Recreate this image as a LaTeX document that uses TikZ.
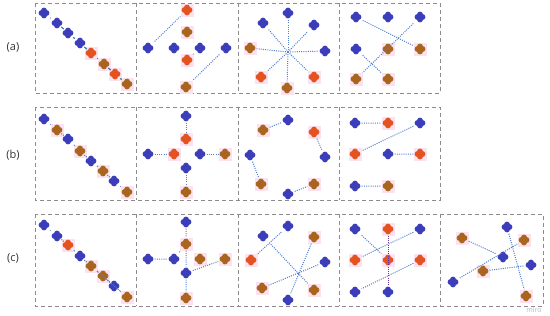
\documentclass[tikz,border=0pt]{standalone}
\usepackage{fontspec}
\setmainfont{Open Sans}
\definecolor{mblue}{HTML}{3B3DBA}
\definecolor{mora}{HTML}{E4531F}
\definecolor{mbro}{HTML}{A9651E}
\definecolor{halo}{HTML}{FCE1F1}
\definecolor{lnk}{HTML}{4F7FD0}
\definecolor{frame}{HTML}{8C8C8C}
\begin{document}
\begin{tikzpicture}[x=1pt,y=-1pt,
  mk/.style={minimum size=13, inner sep=0, path picture={
     \draw[line width=5.6, line cap=round, #1]
       ([xshift=-2.6]path picture bounding box.center) -- ([xshift=2.6]path picture bounding box.center)
       ([yshift=-2.6]path picture bounding box.center) -- ([yshift=2.6]path picture bounding box.center);}},
  blu/.style={mk=mblue},
  ora/.style={mk=mora, fill=halo},
  bro/.style={mk=mbro, fill=halo},
  lk/.style={draw=lnk, line width=1.0, dash pattern=on 1pt off 1.2pt},
  lks/.style={draw=lnk!85!black, line width=1.1},
  bx/.style={draw=frame, line width=0.9, dash pattern=on 4pt off 3pt},
  lab/.style={font=\fontsize{11}{13}\selectfont, text=black!80}]
\useasboundingbox (0,0) rectangle (550,316);
% frames
\draw[bx] (35,3) rectangle (440,93);
\foreach \x in {136,238,339} \draw[bx] (\x,3) -- (\x,93);
\draw[bx] (35,107) rectangle (440,200);
\foreach \x in {136,238,339} \draw[bx] (\x,107) -- (\x,200);
\draw[bx] (35,214) rectangle (543,306);
\foreach \x in {136,238,339,440} \draw[bx] (\x,214) -- (\x,306);
% labels
\node[lab] (la) at (13,47) {(a)};
\node[lab] (lb) at (13,155) {(b)};
\node[lab] (lc) at (13,258) {(c)};
\node[font=\fontsize{7}{8}\selectfont, text=black!28] (miro) at (534,310) {miro};

% ===== Row a =====
% box 1
\node[blu] (a1) at (44,13) {};
\node[blu] (a2) at (57,23) {};
\node[blu] (a3) at (68,33) {};
\node[blu] (a4) at (80,43) {};
\node[ora] (a5) at (91,53) {};
\node[bro] (a6) at (104,64) {};
\node[ora] (a7) at (115,74) {};
\node[bro] (a8) at (127,84) {};
\draw[lks] (a1)--(a2) (a2)--(a3) (a3)--(a4) (a4)--(a5) (a5)--(a6) (a6)--(a7) (a7)--(a8);
% box 2
\node[ora] (b1) at (187,10) {};
\node[bro] (b2) at (187,32) {};
\node[ora] (b3) at (187,60) {};
\node[bro] (b4) at (186,87) {};
\node[blu] (b5) at (148,48) {};
\node[blu] (b6) at (174,48) {};
\node[blu] (b7) at (200,48) {};
\node[blu] (b8) at (226,48) {};
\draw[lk] (b5)--(b1) (b7)--(b3) (b8)--(b4);
% box 3
\coordinate (hub) at (288,52);
\node[blu] (c1) at (288,13) {};
\node[blu] (c2) at (263,23) {};
\node[blu] (c3) at (314,25) {};
\node[blu] (c4) at (325,51) {};
\node[bro] (c5) at (250,48) {};
\node[ora] (c6) at (261,77) {};
\node[bro] (c7) at (287,88) {};
\node[ora] (c8) at (314,77) {};
\foreach \n in {c1,c2,c3,c4,c5,c6,c7,c8} \draw[lk] (hub)--(\n);
% box 4
\node[blu] (d1) at (356,17) {};
\node[blu] (d2) at (388,17) {};
\node[blu] (d3) at (420,17) {};
\node[blu] (d4) at (356,49) {};
\node[bro] (d5) at (388,49) {};
\node[bro] (d6) at (420,49) {};
\node[bro] (d7) at (356,79) {};
\node[bro] (d8) at (388,79) {};
\draw[lk] (d1)--(d6) (d3)--(d7) (d4)--(d8);

% ===== Row b =====
% box 1
\node[blu] (e1) at (44,119) {};
\node[bro] (e2) at (57,130) {};
\node[blu] (e3) at (68,139) {};
\node[bro] (e4) at (80,151) {};
\node[blu] (e5) at (91,161) {};
\node[bro] (e6) at (103,171) {};
\node[blu] (e7) at (114,181) {};
\node[bro] (e8) at (127,192) {};
\draw[lk] (e1)--(e2) (e2)--(e3) (e3)--(e4) (e4)--(e5) (e5)--(e6) (e6)--(e7) (e7)--(e8);
% box 2
\node[blu] (f1) at (186,116) {};
\node[ora] (f2) at (186,139) {};
\node[blu] (f3) at (148,154) {};
\node[ora] (f4) at (174,154) {};
\node[blu] (f5) at (200,154) {};
\node[bro] (f6) at (225,154) {};
\node[blu] (f7) at (186,168) {};
\node[bro] (f8) at (186,192) {};
\draw[lk] (f1)--(f2) (f3)--(f4) (f5)--(f6) (f7)--(f8);
% box 3
\node[bro] (g1) at (263,130) {};
\node[blu] (g2) at (288,120) {};
\node[ora] (g3) at (314,132) {};
\node[blu] (g4) at (325,157) {};
\node[blu] (g5) at (250,155) {};
\node[bro] (g6) at (261,184) {};
\node[blu] (g7) at (288,194) {};
\node[bro] (g8) at (314,184) {};
\draw[lk] (g1)--(g2) (g3)--(g4) (g5)--(g6) (g7)--(g8);
% box 4
\node[blu] (h1) at (355,123) {};
\node[ora] (h2) at (388,123) {};
\node[blu] (h3) at (420,123) {};
\node[ora] (h4) at (355,154) {};
\node[blu] (h5) at (388,154) {};
\node[ora] (h6) at (420,154) {};
\node[blu] (h7) at (355,186) {};
\node[bro] (h8) at (388,186) {};
\draw[lk] (h1)--(h2) (h3)--(h4) (h5)--(h6) (h7)--(h8);

% ===== Row c =====
% box 1
\node[blu] (i1) at (44,225) {};
\node[blu] (i2) at (57,236) {};
\node[ora] (i3) at (68,245) {};
\node[blu] (i4) at (80,256) {};
\node[bro] (i5) at (91,266) {};
\node[bro] (i6) at (103,276) {};
\node[blu] (i7) at (114,286) {};
\node[bro] (i8) at (127,297) {};
\draw[lk] (i1)--(i2) (i2)--(i3) (i3)--(i4) (i4)--(i5) (i5)--(i6) (i6)--(i7) (i7)--(i8) (i5)--(i8);
% box 2
\node[blu] (j1) at (186,222) {};
\node[bro] (j2) at (186,244) {};
\node[blu] (j3) at (148,259) {};
\node[blu] (j4) at (174,259) {};
\node[bro] (j5) at (200,259) {};
\node[bro] (j6) at (225,259) {};
\node[blu] (j7) at (186,273) {};
\node[bro] (j8) at (186,298) {};
\draw[lk] (j1)--(j2) (j2)--(j7) (j7)--(j8) (j3)--(j4) (j4)--(j2) (j7)--(j6);
% box 3
\node[blu] (k1) at (288,226) {};
\node[blu] (k2) at (263,236) {};
\node[bro] (k3) at (314,237) {};
\node[ora] (k4) at (251,260) {};
\node[blu] (k5) at (325,262) {};
\node[bro] (k6) at (262,288) {};
\node[bro] (k7) at (314,290) {};
\node[blu] (k8) at (288,300) {};
\draw[lk] (k1)--(k4) (k2)--(k7) (k3)--(k8) (k5)--(k6);
% box 4
\node[blu] (l1) at (355,229) {};
\node[ora] (l2) at (388,229) {};
\node[blu] (l3) at (420,229) {};
\node[ora] (l4) at (355,260) {};
\node[ora] (l5) at (388,260) {};
\node[ora] (l6) at (420,260) {};
\node[blu] (l7) at (355,292) {};
\node[blu] (l8) at (388,292) {};
\draw[lk] (l1)--(l5) (l3)--(l4) (l6)--(l7);
\draw[lk, draw=violet!60!lnk] (l2)--(l8);
% box 5
\node[bro] (m1) at (462,238) {};
\node[blu] (m2) at (507,227) {};
\node[bro] (m3) at (524,240) {};
\node[blu] (m4) at (503,257) {};
\node[blu] (m5) at (531,265) {};
\node[bro] (m6) at (483,271) {};
\node[blu] (m7) at (453,282) {};
\node[bro] (m8) at (526,296) {};
\draw[lk] (m1)--(m4) (m7)--(m3) (m6)--(m5) (m2)--(m8);
\end{tikzpicture}
\end{document}
